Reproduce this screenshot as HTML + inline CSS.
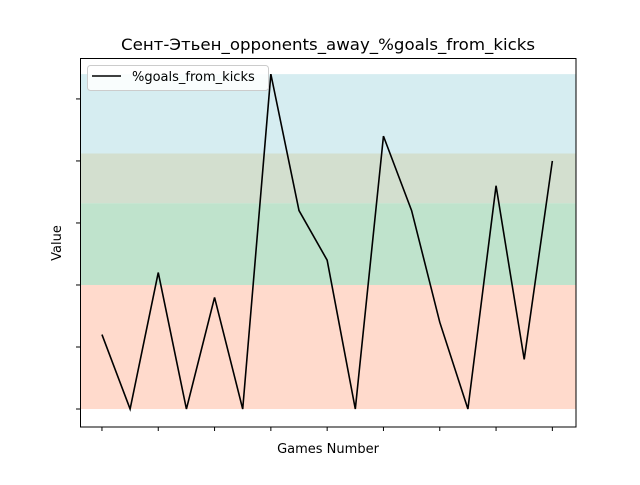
<!DOCTYPE html>
<html><head><meta charset="utf-8"><style>
body{margin:0;background:#fff}
text{font-family:"DejaVu Sans","Liberation Sans",sans-serif}
</style></head><body>
<svg id="chart" width="640" height="480" xmlns="http://www.w3.org/2000/svg">
<rect width="640" height="480" fill="#fff"/>
<g id="bands"></g>
<g id="ticks"></g>
<path id="line" fill="none" stroke="#000" stroke-width="1.6" stroke-linejoin="miter"/>
<rect x="80.5" y="58.5" width="495.5" height="368.5" fill="none" stroke="#000" stroke-width="1"/>
<text x="328" y="50" text-anchor="middle" font-size="16" textLength="414" lengthAdjust="spacingAndGlyphs">Сент-Этьен_opponents_away_%goals_from_kicks</text>
<text x="328" y="453" text-anchor="middle" font-size="13">Games Number</text>
<text x="61" y="243" text-anchor="middle" font-size="13" transform="rotate(-90 61 243)">Value</text>
<g>
<rect x="87.5" y="65.5" width="181" height="25" rx="3" fill="#fff" fill-opacity="0.85" stroke="#ccc"/>
<line x1="92" y1="76" x2="121" y2="76" stroke="#000" stroke-width="1.5"/>
<text x="132" y="81" font-size="13">%goals_from_kicks</text>
</g>
</svg>
<script>
const values = [6, 0, 11, 0, 9, 0, 27, 16, 12, 0, 22, 16, 7, 0, 18, 4, 20];
const bandLows = [0, 10, 16.6, 20.6];
const bandHighs = [10, 16.6, 20.6, 27];
const bandColors = ["#ffdacc", "#bfe3cc", "#d3dfcf", "#d6edf1"];
const yTicks = [0, 5, 10, 15, 20, 25];
const xTicks = [0, 2, 4, 6, 8, 10, 12, 14, 16];
const X0=80, X1=576, Y0=58, Y1=427;
const xmin=-0.78, xmax=16.84, ymin=-1.45, ymax=28.3;
const xs = v => X0 + (v - xmin) / (xmax - xmin) * (X1 - X0);
const ys = v => Y1 - (v - ymin) / (ymax - ymin) * (Y1 - Y0);
const NS="http://www.w3.org/2000/svg";
const bands=document.getElementById('bands');
bandLows.forEach((lo,i)=>{
  const r=document.createElementNS(NS,'rect');
  r.setAttribute('x',X0);r.setAttribute('width',X1-X0);
  r.setAttribute('y',ys(bandHighs[i]));r.setAttribute('height',ys(lo)-ys(bandHighs[i]));
  r.setAttribute('fill',bandColors[i]);
  
  
  bands.appendChild(r);
});
const t=document.getElementById('ticks');
yTicks.forEach(v=>{
  const l=document.createElementNS(NS,'line');
  l.setAttribute('x1',X0-4);l.setAttribute('x2',X0);l.setAttribute('y1',ys(v));l.setAttribute('y2',ys(v));
  l.setAttribute('stroke','#000');
  
  
  t.appendChild(l);
});
xTicks.forEach(v=>{
  const l=document.createElementNS(NS,'line');
  l.setAttribute('x1',xs(v));l.setAttribute('x2',xs(v));l.setAttribute('y1',Y1);l.setAttribute('y2',Y1+4);
  l.setAttribute('stroke','#000');
  
  
  t.appendChild(l);
});
document.getElementById('line').setAttribute('d', values.map((v,i)=>(i?'L':'M')+xs(i)+','+ys(v)).join(' '));
</script>
</body></html>
